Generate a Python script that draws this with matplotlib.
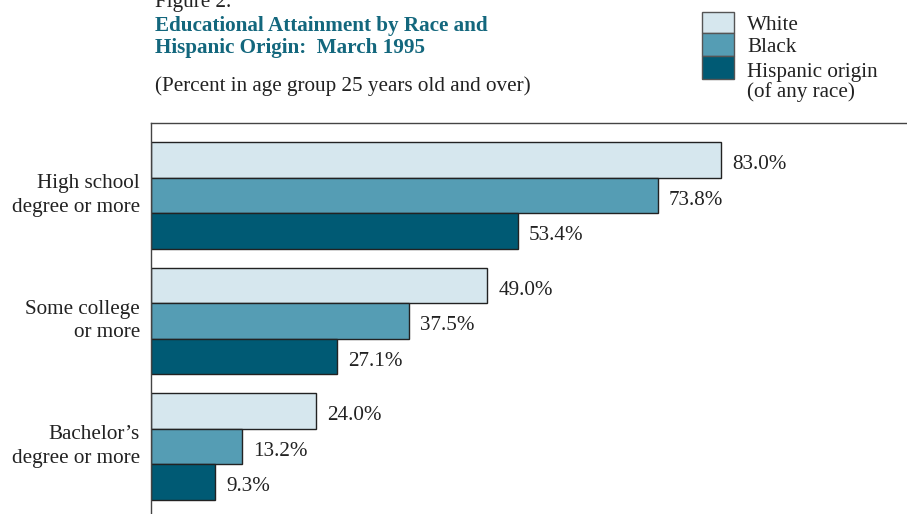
import matplotlib
matplotlib.use("Agg")
import matplotlib.pyplot as plt
from matplotlib.patches import Rectangle
import numpy as np

# Educational attainment, percent of people 25 years old and over, March 1995
categories = ["High school\ndegree or more", "Some college\nor more", "Bachelor\u2019s\ndegree or more"]
series_names = ["White", "Black", "Hispanic origin\n(of any race)"]
white = [83.0, 49.0, 24.0]
black = [73.8, 37.5, 13.2]
hispanic = [53.4, 27.1, 9.3]

colors = ["#d6e7ee", "#559db4", "#005a74"]
title_color = "#13677d"
text_color = "#222222"

plt.rcParams["font.family"] = ["Liberation Serif", "DejaVu Serif"]

W, H = 907, 514
fig = plt.figure(figsize=(W / 100, H / 100), dpi=100)

def fx(px):
    return px / W

def fy(py):
    return 1 - py / H

FS = 15.2

# Plot area: frame runs off the right and bottom edges of the figure
left_px, top_px, right_px, bottom_px = 151, 123, 912, 522
ax = fig.add_axes([fx(left_px), fy(bottom_px), fx(right_px - left_px), (bottom_px - top_px) / H])

bar_h = 0.2827
y = np.arange(len(categories))
offsets = [-bar_h, 0.0, bar_h]
for vals, off, col in zip([white, black, hispanic], offsets, colors):
    bars = ax.barh(y + off, vals, height=bar_h, color=col, edgecolor="#222222", linewidth=1.0)
    for b, v in zip(bars, vals):
        ax.annotate(f"{v:.1f}%", (v, b.get_y() + b.get_height() / 2),
                    xytext=(8, -3.5), textcoords="offset points", va="center", ha="left",
                    fontsize=FS, color=text_color)

ax.set_xlim(0, (right_px - left_px) / 6.867)
ax.set_ylim(2.603, -0.576)
ax.set_yticks(y)
ax.set_yticklabels(categories, fontsize=FS, color=text_color)
for t in ax.get_yticklabels():
    t.set_linespacing(1.32)
    t.set_va("center")
ax.tick_params(axis="y", length=0, pad=8)
ax.set_xticks([])
for side in ["left", "top"]:
    ax.spines[side].set_color("#444444")
    ax.spines[side].set_linewidth(1.0)
for side in ["right", "bottom"]:
    ax.spines[side].set_visible(False)

# Titles
fig.text(fx(155), fy(7), "Figure 2.", fontsize=FS, color=text_color, va="baseline")
fig.text(fx(155), fy(31), "Educational Attainment by Race and", fontsize=FS,
         fontweight="bold", color=title_color, va="baseline")
fig.text(fx(155), fy(53), "Hispanic Origin:  March 1995", fontsize=FS,
         fontweight="bold", color=title_color, va="baseline")
fig.text(fx(155), fy(91), "(Percent in age group 25 years old and over)", fontsize=FS,
         color=text_color, va="baseline")

# Legend built from stacked swatches
sw_x, sw_w = 702, 32
sw_edges = [12, 33, 56, 79]
for i, (name, col) in enumerate(zip(series_names, colors)):
    y0, y1 = sw_edges[i], sw_edges[i + 1]
    fig.patches.append(Rectangle((fx(sw_x), fy(y1)), fx(sw_w), (y1 - y0) / H,
                                 transform=fig.transFigure, facecolor=col,
                                 edgecolor="#555555", linewidth=1.0))
legend_tops = [16, 38, 63]
for name, yt in zip(series_names, legend_tops):
    fig.text(fx(747), fy(yt), name, fontsize=FS, color=text_color, va="top",
             linespacing=1.0)

fig.savefig("out.png", dpi=100)
